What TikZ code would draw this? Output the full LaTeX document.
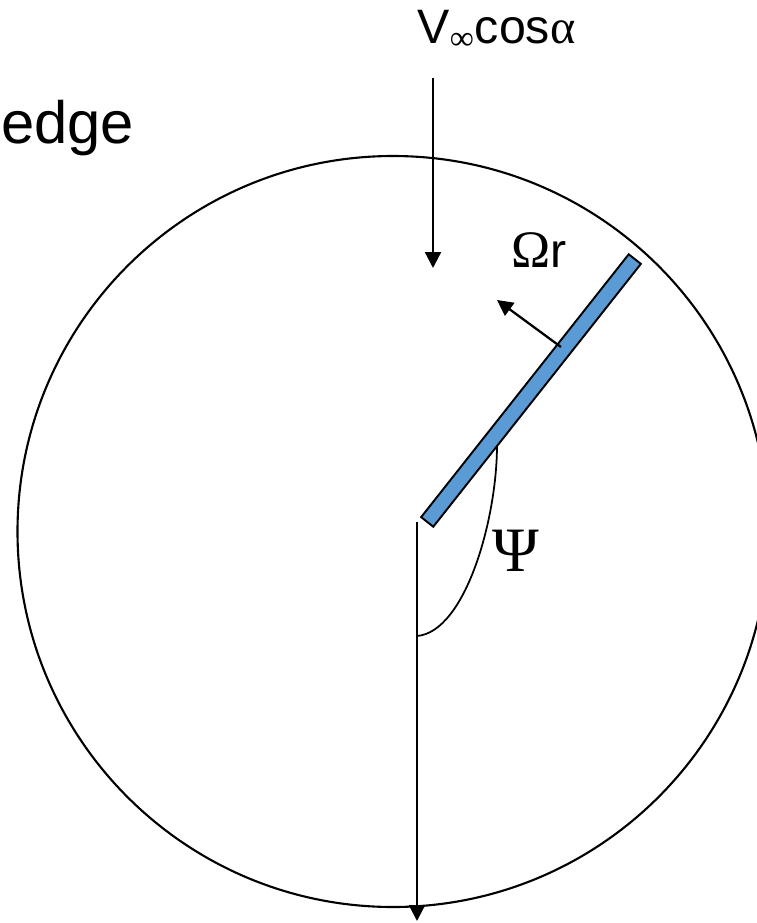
\documentclass[tikz,border=0pt]{standalone}
\usepackage{fontspec}
\setmainfont{Liberation Sans}
\newfontfamily\symfont{Liberation Serif}
\usetikzlibrary{arrows.meta,positioning}
\definecolor{bladeblue}{HTML}{5B9BD5}
\tikzset{flow/.style={line width=1.3pt,-{Triangle[length=9pt,width=9pt]}},
  lbl/.style={font=\fontsize{27.5}{33}\selectfont,inner sep=0pt,anchor=base}}

\begin{document}
\begin{tikzpicture}[x=0.02cm,y=-0.02cm]
\useasboundingbox (0,0) rectangle (757,923);
% rotor disc
\coordinate (hub) at (393,531.5);
\draw[line width=1.2pt] (hub) circle (375.5);
% blade
\node[draw,line width=1.1pt,fill=bladeblue,rotate=51.7,inner sep=0pt,
  minimum width=6.7cm,minimum height=0.31cm] (blade) at (531,390.5) {};
\coordinate (root) at (417,522);\coordinate (down) at (417,921);
\coordinate (inflow) at (433,78);\coordinate (inflowtip) at (433,268);
\coordinate (spin) at (561,347);\coordinate (spintip) at (497,300);
\draw[flow] (inflow)--(inflowtip);
\draw[flow] (root)--(down);
\draw[flow] (spin)--(spintip);
\draw[line width=1pt] (417,636) .. controls (465,632) and (497,520) .. (497,445);
% labels
\node[lbl] (vinf) at (496.5,43) {V\textsubscript{\symfont ∞}cos{\symfont α}};
\node[lbl] (omr) at (539,267) {{\symfont\fontsize{30}{36}\selectfont Ω}r};
\node[lbl,font=\fontsize{36}{40}\selectfont] (psi) at (516,571) {\symfont Ψ};
\node[lbl,anchor=base west,font=\fontsize{34}{40}\selectfont] (edge) at (1,143) {edge};
\end{tikzpicture}
\end{document}
